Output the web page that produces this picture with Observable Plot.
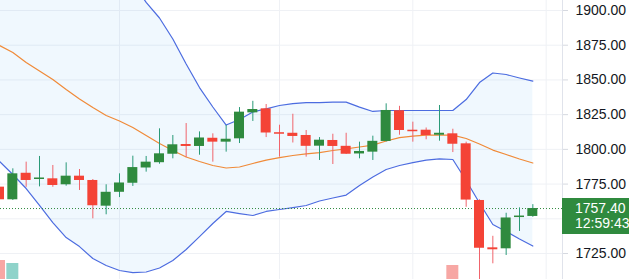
<!DOCTYPE html>
<html><head><meta charset="utf-8">
<script src="https://cdn.jsdelivr.net/npm/d3@7"></script>
<script src="https://cdn.jsdelivr.net/npm/@observablehq/plot@0.6"></script>
<style>
html,body{margin:0;padding:0;background:#fff;}
#wrap{position:relative;width:629px;height:279px;overflow:hidden;font-family:"Liberation Sans",Arial,sans-serif;}
#wrap svg{position:absolute;left:0;top:0;}
#price{position:absolute;background:#2f8a3e;color:#fff;font-size:14px;line-height:15px;box-sizing:border-box;padding:3px 0 0 13px;white-space:nowrap;overflow:hidden;}
</style></head><body><div id="wrap"></div>
<script>
// candle OHLC (index 0..40)
const opens  = [1772.8,1763.7,1782.8,1778.3,1778.8,1774.5,1780.7,1777.6,1759.1,1769.1,1775.6,1786.6,1790.4,1796.5,1803.5,1802.1,1808.0,1805.2,1807.6,1826.3,1829.2,1811.9,1811.6,1810.0,1802.3,1806.4,1802.2,1796.7,1798.0,1805.7,1827.8,1813.7,1813.8,1810.2,1811.2,1804.0,1763.2,1729.1,1728.4,1750.9,1751.7];
const highs  = [1774.7,1786.0,1790.8,1794.9,1788.4,1790.3,1785.5,1778.3,1774.5,1782.4,1795.1,1794.9,1814.8,1810.0,1818.6,1812.6,1811.2,1817.2,1830.1,1834.6,1832.3,1817.4,1825.3,1813.6,1808.5,1810.9,1811.6,1805.2,1809.5,1832.8,1831.0,1819.6,1815.4,1831.6,1814.5,1805.2,1763.7,1737.4,1754.0,1757.9,1760.2];
const lows   = [1762.4,1763.2,1772.7,1773.0,1772.7,1773.5,1770.4,1750.0,1752.9,1765.3,1773.3,1783.6,1789.3,1793.2,1794.1,1795.8,1790.8,1798.0,1804.2,1820.1,1808.5,1794.4,1804.6,1794.4,1792.0,1789.1,1796.3,1793.2,1792.0,1805.3,1810.2,1805.2,1806.9,1805.9,1797.7,1758.3,1700.0,1717.6,1723.6,1740.9,1751.1];
const closes = [1763.7,1782.4,1777.6,1779.0,1774.0,1780.7,1777.6,1759.4,1769.1,1775.8,1786.9,1790.8,1796.8,1803.3,1802.1,1808.2,1805.2,1807.3,1826.8,1828.7,1811.8,1810.9,1809.3,1802.2,1806.6,1802.1,1796.5,1798.5,1805.8,1828.0,1813.6,1812.7,1810.0,1811.6,1803.7,1763.5,1728.8,1727.7,1750.6,1751.8,1757.4];
// Bollinger bands
const bbUpper  = [1958.3,1957.6,1953.3,1953.3,1953.3,1949.7,1942.5,1938.9,1932.4,1928.1,1920.2,1905.8,1894.6,1879.5,1861.5,1844.5,1830.5,1817.5,1821.5,1826.9,1829.2,1831.6,1833.0,1833.7,1833.7,1834.0,1834.0,1830.4,1827.3,1828.0,1828.0,1828.0,1828.0,1828.0,1828.0,1835.9,1848.1,1855.0,1853.9,1851.4,1849.1];
const bbMiddle = [1874.8,1869.8,1862.6,1856.4,1850.3,1843.1,1836.3,1830.1,1824.4,1820.4,1815.7,1810.0,1804.2,1799.2,1794.5,1791.3,1788.4,1786.6,1787.3,1789.8,1792.3,1794.1,1795.6,1796.7,1797.7,1799.2,1800.3,1801.7,1803.1,1806.0,1808.5,1809.6,1810.3,1810.3,1810.3,1807.8,1803.9,1799.5,1796.3,1793.1,1790.2];
const bbLower  = [1791.3,1781.9,1771.8,1759.6,1747.3,1736.5,1730.0,1721.4,1716.4,1712.8,1711.3,1711.7,1714.6,1720.0,1727.9,1737.2,1746.6,1755.3,1753.8,1752.4,1755.3,1756.7,1758.1,1759.6,1762.8,1765.0,1767.1,1774.0,1780.1,1785.5,1788.4,1790.5,1792.3,1793.1,1792.7,1777.6,1761.4,1745.9,1740.9,1735.5,1730.4];
// visible volume bars
const volIndex = [0, 1, 34];
const volValue = [19, 16, 14];
const volUp    = [false, true, false];
// grid levels, axis labels (1750 is hidden under the price box), time grid, last price
const gridLevels = [1725, 1750, 1775, 1800, 1825, 1850, 1875, 1900];
const axisLabels = [1725, 1775, 1800, 1825, 1850, 1875, 1900];
const timeGrid = [9, 21, 31, 41];
const lastPrice = 1757.40;
const countdown = "12:59:43";

const candles = opens.map((o, i) => ({i, o, h: highs[i], l: lows[i], c: closes[i], up: closes[i] >= o}));
const band = bbUpper.map((u, i) => ({i, u, m: bbMiddle[i], lo: bbLower[i]}));
const vols = volIndex.map((i, j) => ({i, v: volValue[j], up: volUp[j]}));

const W = 629, H = 279, MR = 67;
const xDomain = [0.075, 42.225];
const yDomain = [1706.3, 1907.2];
const GREEN = "#2f8a3e", RED = "#f44336", GWICK = "#2a9a78", RWICK = "#f0646c";
const hw = 0.375;

const wrap = document.getElementById("wrap");

const volPlot = Plot.plot({
  width: W, height: H, marginLeft: 0, marginRight: MR, marginTop: 0, marginBottom: 0,
  x: {type: "linear", domain: xDomain, axis: null},
  y: {domain: [0, 100], range: [H, H - 100], axis: null},
  style: {background: "transparent"},
  marks: [
    Plot.rect(vols, {x1: d => d.i - 0.45, x2: d => d.i + 0.45, y1: 0, y2: "v",
      fill: d => d.up ? "#8fd3ca" : "#f7a7a4", clip: true})
  ]
});

const main = Plot.plot({
  width: W, height: H, marginLeft: 0, marginRight: MR, marginTop: 0, marginBottom: 0,
  x: {type: "linear", domain: xDomain, axis: null},
  y: {domain: yDomain, axis: null},
  style: {background: "transparent", fontFamily: "'Liberation Sans', Arial, sans-serif", fontSize: "14px", overflow: "visible"},
  marks: [
    Plot.ruleY(gridLevels, {stroke: "#eff1f5", clip: true}),
    Plot.ruleX(timeGrid, {stroke: "#eff1f5", clip: true}),
    Plot.areaY(band, {x: "i", y1: "lo", y2: "u", fill: "#2196f3", fillOpacity: 0.065, clip: true}),
    Plot.line(band, {x: "i", y: "u", stroke: "#4c6ce0", strokeWidth: 1.2, clip: true}),
    Plot.line(band, {x: "i", y: "lo", stroke: "#4c6ce0", strokeWidth: 1.2, clip: true}),
    Plot.line(band, {x: "i", y: "m", stroke: "#f08a38", strokeWidth: 1.2, clip: true}),
    Plot.ruleY([lastPrice], {stroke: GREEN, strokeDasharray: "1,2", clip: true}),
    Plot.ruleX(candles, {x: "i", y1: "l", y2: "h", stroke: d => d.up ? GWICK : RWICK, clip: true}),
    Plot.rect(candles, {x1: d => d.i - hw, x2: d => d.i + hw,
      y1: d => Math.min(d.o, d.c), y2: d => Math.max(d.o, d.c) + (Math.abs(d.o - d.c) < 1.1 ? 1.1 - Math.abs(d.o - d.c) : 0),
      fill: d => d.up ? GREEN : RED, clip: true}),
    Plot.ruleX([xDomain[1]], {stroke: "#e0e3eb"}),
    Plot.axisY(axisLabels, {anchor: "right", tickFormat: d3.format(".2f"), tickSize: 5, tickPadding: 8,
      stroke: "#d6d9e0", fill: "#131722", fontSize: 14})
  ]
});

wrap.appendChild(volPlot);
wrap.appendChild(main);

const ys = main.scale("y"), xs = main.scale("x");
const py = ys.apply(lastPrice);
const px = xs.apply(xDomain[1]);
const box = document.createElement("div");
box.id = "price";
box.style.left = px + "px";
box.style.top = (py - 10) + "px";
box.style.width = (W - px) + "px";
box.style.height = "36px";
box.innerHTML = d3.format(".2f")(lastPrice) + "<br>" + countdown;
wrap.appendChild(box);
</script></body></html>
